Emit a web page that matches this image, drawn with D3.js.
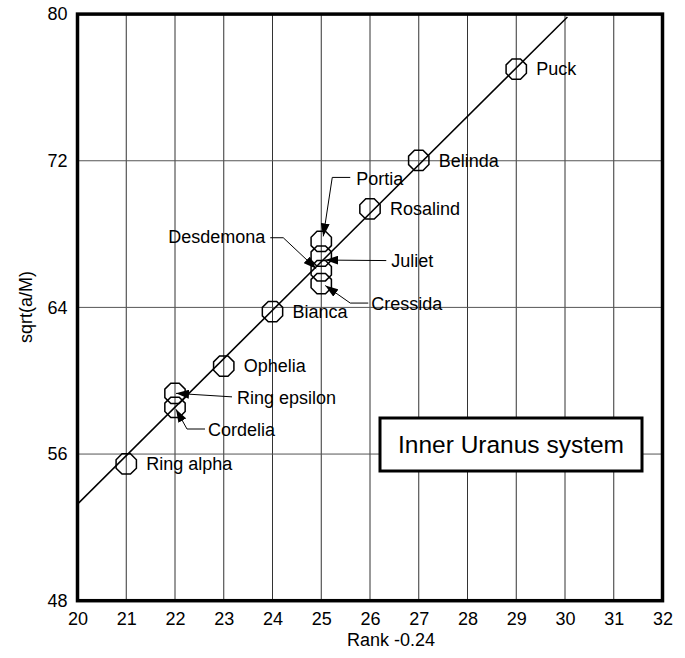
<!DOCTYPE html>
<html>
<head>
<meta charset="utf-8">
<script src="https://cdn.jsdelivr.net/npm/d3@7"></script>
<style>
  body { margin: 0; background: #fff; }
  svg text { font-family: "Liberation Sans", Arial, sans-serif; fill: #000; }
</style>
</head>
<body>
<svg id="chart"></svg>
<script>
// data
const names = ["Ring alpha", "Cordelia", "Ring epsilon", "Ophelia", "Bianca", "Cressida",
               "Desdemona", "Juliet", "Portia", "Rosalind", "Belinda", "Puck"];
const ranks = [21, 22, 22, 23, 24, 25, 25, 25, 25, 26, 27, 29];
const values = [55.46, 58.55, 59.31, 60.80, 63.77, 65.3, 66.0, 66.8, 67.6, 69.37, 72.02, 77.0];
const fitRanks = [20, 30.05];
const fitValues = [53.27, 79.84];
const xTicks = [20, 21, 22, 23, 24, 25, 26, 27, 28, 29, 30, 31, 32];
const yTicks = [48, 56, 64, 72, 80];

// labels with leader arrows (offsets in px from the marker)
const callouts = {
  "Portia":       { tx: 35, ty: -63, anchor: "start", path: [[29, -64], [11, -64], [2, -5]] },
  "Juliet":       { tx: 70, ty: 5, anchor: "start", path: [[65, 4.5], [4, 4]] },
  "Desdemona":    { tx: -56, ty: -34, anchor: "end", path: [[-51, -33], [-38, -33], [-5, -2]] },
  "Cressida":     { tx: 50, ty: 20, anchor: "start", path: [[47, 19.5], [29, 19.5], [4, 2]] },
  "Ring epsilon": { tx: 62, ty: 4, anchor: "start", path: [[57, 3.5], [1, 0]] },
  "Cordelia":     { tx: 33, ty: 22, anchor: "start", path: [[30, 21.7], [12, 21.7], [1, 2]] }
};

const width = 685, height = 658;
const svg = d3.select("#chart").attr("width", width).attr("height", height);

const x = d3.scaleLinear().domain([20, 32]).range([77.5, 662.5]);
const y = d3.scaleLinear().domain([48, 80]).range([600.7, 14.1]);

// arrow head
svg.append("defs").append("marker")
  .attr("id", "arrow")
  .attr("markerUnits", "userSpaceOnUse")
  .attr("viewBox", "0 0 13 9")
  .attr("refX", 13).attr("refY", 4.5)
  .attr("markerWidth", 13).attr("markerHeight", 9)
  .attr("orient", "auto")
  .append("path")
  .attr("d", "M0,0L13,4.5L0,9Z")
  .attr("fill", "#000");

// grid
const grid = svg.append("g");
grid.selectAll(".vg")
  .data(xTicks.slice(1, -1))
  .enter().append("line")
  .attr("x1", d => x(d)).attr("x2", d => x(d))
  .attr("y1", y(80)).attr("y2", y(48))
  .attr("stroke", "#333").attr("stroke-width", 1);
grid.selectAll(".hg")
  .data(yTicks.slice(1, -1))
  .enter().append("line")
  .attr("x1", x(20)).attr("x2", x(32))
  .attr("y1", d => y(d)).attr("y2", d => y(d))
  .attr("stroke", "#555").attr("stroke-width", 1);

// axes (labels only)
const xAxis = svg.append("g")
  .attr("transform", `translate(0,${y(48) + 9})`)
  .call(d3.axisBottom(x).tickValues(xTicks).tickSize(0).tickFormat(d3.format("d")));
xAxis.select(".domain").remove();
xAxis.selectAll("text").style("font-size", "18px").attr("dy", "0.71em");

const yAxis = svg.append("g")
  .attr("transform", `translate(${x(20) - 7},0)`)
  .call(d3.axisLeft(y).tickValues(yTicks).tickSize(0).tickFormat(d3.format("d")));
yAxis.select(".domain").remove();
yAxis.selectAll("text").style("font-size", "18px");

svg.append("text")
  .attr("x", (x(20) + x(32)) / 2 + 21).attr("y", 646)
  .attr("text-anchor", "middle")
  .style("font-size", "18px")
  .text("Rank -0.24");

svg.append("text")
  .attr("transform", `translate(32,${307}) rotate(-90)`)
  .attr("text-anchor", "middle")
  .style("font-size", "18px")
  .text("sqrt(a/M)");

// fit line
svg.append("path")
  .datum(d3.zip(fitRanks, fitValues))
  .attr("d", d3.line().x(d => x(d[0])).y(d => y(d[1])))
  .attr("stroke", "#000").attr("stroke-width", 1.5).attr("fill", "none");

// octagon markers
const r = 11;
const octagon = d3.range(8).map(i => {
  const a = Math.PI / 8 + i * Math.PI / 4;
  return [r * Math.cos(a), r * Math.sin(a)];
});
const pts = names.map((n, i) => ({ name: n, rank: ranks[i], value: values[i] }));

svg.selectAll(".pt")
  .data(pts)
  .enter().append("path")
  .attr("transform", d => `translate(${x(d.rank)},${y(d.value)})`)
  .attr("d", d3.line().curve(d3.curveLinearClosed)(octagon))
  .attr("fill", "none").attr("stroke", "#000").attr("stroke-width", 1.5);

// plain labels
svg.selectAll(".lbl")
  .data(pts.filter(d => !callouts[d.name]))
  .enter().append("text")
  .attr("x", d => x(d.rank) + 20)
  .attr("y", d => y(d.value))
  .attr("dy", "0.35em")
  .style("font-size", "18px")
  .text(d => d.name);

// callout labels
const co = pts.filter(d => callouts[d.name]);
svg.selectAll(".lead")
  .data(co)
  .enter().append("path")
  .attr("d", d => {
    const c = callouts[d.name], mx = x(d.rank), my = y(d.value);
    return d3.line()(c.path.map(p => [mx + p[0], my + p[1]]));
  })
  .attr("fill", "none").attr("stroke", "#000").attr("stroke-width", 1)
  .attr("marker-end", "url(#arrow)");

svg.selectAll(".clbl")
  .data(co)
  .enter().append("text")
  .attr("x", d => x(d.rank) + callouts[d.name].tx)
  .attr("y", d => y(d.value) + callouts[d.name].ty)
  .attr("dy", "0.35em")
  .attr("text-anchor", d => callouts[d.name].anchor)
  .style("font-size", "18px")
  .text(d => d.name);

// frame
svg.append("rect")
  .attr("x", x(20)).attr("y", y(80))
  .attr("width", x(32) - x(20)).attr("height", y(48) - y(80))
  .attr("fill", "none").attr("stroke", "#000").attr("stroke-width", 3.5);

// title box
svg.append("rect")
  .attr("x", 380).attr("y", 418)
  .attr("width", 262).attr("height", 53)
  .attr("fill", "#fff").attr("stroke", "#000").attr("stroke-width", 3);
svg.append("text")
  .attr("x", 511).attr("y", 444.5)
  .attr("dy", "0.35em")
  .attr("text-anchor", "middle")
  .style("font-size", "24.5px")
  .text("Inner Uranus system");
</script>
</body>
</html>
